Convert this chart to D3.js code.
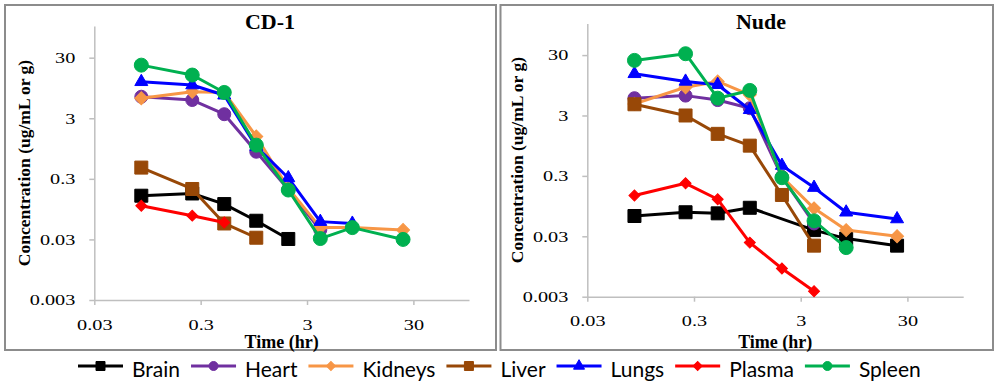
<!DOCTYPE html>
<html>
<head>
<meta charset="utf-8">
<script src="https://cdn.jsdelivr.net/npm/d3@7"></script>
<style>
  body { margin: 0; background: #fff; }
</style>
</head>
<body>
<div id="chart"></div>
<script>
// sampling times (hr)
var times = [0.083, 0.25, 0.5, 1, 2, 4, 8, 24];
var seriesNames = ["Brain", "Heart", "Kidneys", "Liver", "Lungs", "Plasma", "Spleen"];
var panelTitles = ["CD-1", "Nude"];
var xTickValues = [0.03, 0.3, 3, 30];
var yTickValues = [0.003, 0.03, 0.3, 3, 30];

// concentrations (ug/mL or g), one row per series, null = no sample
var cd1Values = [
  [0.158, 0.172, 0.115, 0.061, 0.0305, null, null, null],
  [6.8, 6.0, 3.5, 0.84, 0.2, 0.043, null, null],
  [6.4, 8.2, 8.0, 1.5, 0.21, 0.047, 0.047, 0.043],
  [0.46, 0.204, 0.055, 0.032, null, null, null, null],
  [12.0, 10.6, 7.2, 1.02, 0.31, 0.059, 0.055, null],
  [0.108, 0.074, 0.057, null, null, null, null, null],
  [22.6, 15.5, 8.0, 1.08, 0.196, 0.031, 0.047, 0.030]
];
var nudeValues = [
  [0.065, 0.075, 0.072, 0.089, null, 0.038, 0.0275, 0.021],
  [5.8, 6.4, 5.4, 3.96, 0.29, 0.049, null, null],
  [4.67, 8.8, 11.0, 6.6, 0.29, 0.087, 0.038, 0.030],
  [4.6, 3.0, 1.49, 0.95, 0.145, 0.021, null, null],
  [14.7, 11.0, 9.7, 3.73, 0.445, 0.192, 0.075, 0.058],
  [0.142, 0.226, 0.123, 0.0236, 0.0088, 0.0037, null, null],
  [24.5, 31.6, 5.8, 7.8, 0.28, 0.054, 0.0195, null]
];

//styling per series
var colors = ["#000000", "#7030A0", "#F79646", "#984807", "#0000FF", "#FF0000", "#00B050"];
var shapes = ["square", "circle", "diamond", "square", "triangle", "diamond", "circle"];
var markSize = [13, 13, 13, 13, 13, 11, 14];

var serif = "'Liberation Serif', 'Times New Roman', serif";
var tickScale = 1.35; // tick labels look horizontally stretched in the original

var panels = [
  {title: panelTitles[0], values: cd1Values, box: [5, 5, 491, 345],
   x0: 94.3, x1: 469, y0: 300, y1: 26, titleX: 270, labelX: 24},
  {title: panelTitles[1], values: nudeValues, box: [500.5, 5, 492.5, 345],
   x0: 587.3, x1: 963.2, y0: 296.7, y1: 23.5, titleX: 761, labelX: 517}
];

var svg = d3.select("#chart").append("svg")
  .attr("width", 1000)
  .attr("height", 385);

svg.append("rect").attr("width", 1000).attr("height", 385).attr("fill", "#fff");

function symbolPath(shape, s) {
  if (shape == "circle") return d3.symbol(d3.symbolCircle, Math.PI * s * s / 4)();
  if (shape == "square") return d3.symbol(d3.symbolSquare, s * s)();
  if (shape == "diamond") { var a = s / Math.SQRT2; return d3.symbol(d3.symbolSquare, a * a)(); }
  return d3.symbol(d3.symbolTriangle, Math.sqrt(3) / 4 * s * s)();
}

function drawMarker(g, shape, s, color, cx, cy) {
  g.append("path")
    .attr("d", symbolPath(shape, s))
    .attr("transform", "translate(" + cx + "," + cy + ")" + (shape == "diamond" ? " rotate(45)" : ""))
    .attr("fill", color)
    .attr("stroke", color)
    .attr("stroke-width", 1);
}

panels.forEach(function(p) {
  var g = svg.append("g");

  g.append("rect")
    .attr("x", p.box[0]).attr("y", p.box[1])
    .attr("width", p.box[2]).attr("height", p.box[3])
    .attr("fill", "none")
    .attr("stroke", "#8c8c8c")
    .attr("stroke-width", 2);

  var x = d3.scaleLog().domain([0.03, 100]).range([p.x0, p.x1]);
  var y = d3.scaleLog().domain([0.003, 100]).range([p.y0, p.y1]);

  var xAxis = g.append("g")
    .attr("transform", "translate(0," + p.y0 + ")")
    .call(d3.axisBottom(x).tickValues(xTickValues).tickSize(5).tickSizeOuter(0)
      .tickPadding(14).tickFormat(function(d) { return String(d); }));
  var yAxis = g.append("g")
    .attr("transform", "translate(" + p.x0 + ",0)")
    .call(d3.axisLeft(y).tickValues(yTickValues).tickSize(5).tickSizeOuter(0)
      .tickFormat(function(d) { return String(d); }));

  [xAxis, yAxis].forEach(function(a) {
    a.attr("font-family", serif);
    a.select(".domain").attr("stroke", "#bfbfbf").attr("stroke-width", 1.5);
    a.selectAll(".tick line").attr("stroke", "#bfbfbf").attr("stroke-width", 1.5);
    a.selectAll(".tick text")
      .attr("font-family", serif)
      .attr("font-size", 15)
      .attr("fill", "#000")
      .attr("transform", "scale(" + tickScale + ",1)");
  });
  yAxis.selectAll(".tick text").attr("x", -19 / tickScale);

  //series: line then markers, in legend order
  p.values.forEach(function(vals, i) {
    var pts = times.map(function(t, j) { return {t: t, v: vals[j]}; })
      .filter(function(d) { return d.v != null; });
    g.append("path")
      .datum(pts)
      .attr("fill", "none")
      .attr("stroke", colors[i])
      .attr("stroke-width", 3)
      .attr("stroke-linejoin", "round")
      .attr("d", d3.line().x(function(d) { return x(d.t); }).y(function(d) { return y(d.v); }));
    pts.forEach(function(d) {
      drawMarker(g, shapes[i], markSize[i], colors[i], x(d.t), y(d.v));
    });
  });

  g.append("text")
    .attr("x", p.titleX).attr("y", 29)
    .attr("text-anchor", "middle")
    .attr("font-family", serif)
    .attr("font-weight", "bold")
    .attr("font-size", 22)
    .text(p.title);

  g.append("text")
    .attr("x", (p.x0 + p.x1) / 2).attr("y", 347.5)
    .attr("text-anchor", "middle")
    .attr("font-family", serif)
    .attr("font-weight", "bold")
    .attr("font-size", 18)
    .text("Time (hr)");

  g.append("text")
    .attr("transform", "translate(" + p.labelX + "," + ((p.y0 + p.y1) / 2) + ") rotate(-90)")
    .attr("text-anchor", "middle")
    .attr("dominant-baseline", "central")
    .attr("font-family", serif)
    .attr("font-weight", "bold")
    .attr("font-size", 17.5)
    .text("Concentration (ug/mL or g)");
});

//Legend
var legend = svg.append("g").attr("transform", "translate(0,366)");
var lx = 78;
seriesNames.forEach(function(name, i) {
  var item = legend.append("g");
  item.append("line")
    .attr("x1", lx).attr("x2", lx + 45)
    .attr("stroke", colors[i]).attr("stroke-width", 3);
  drawMarker(item, shapes[i], shapes[i] == "triangle" ? 11 : 9, colors[i], lx + 22.5, 0);
  var t = item.append("text")
    .attr("x", lx + 54).attr("y", 11)
    .attr("font-family", "Lato, 'Noto Sans', sans-serif")
    .attr("font-size", 21)
    .attr("fill", "#000")
    .text(name);
  lx = lx + 54 + t.node().getComputedTextLength() + 11;
});
</script>
</body>
</html>
